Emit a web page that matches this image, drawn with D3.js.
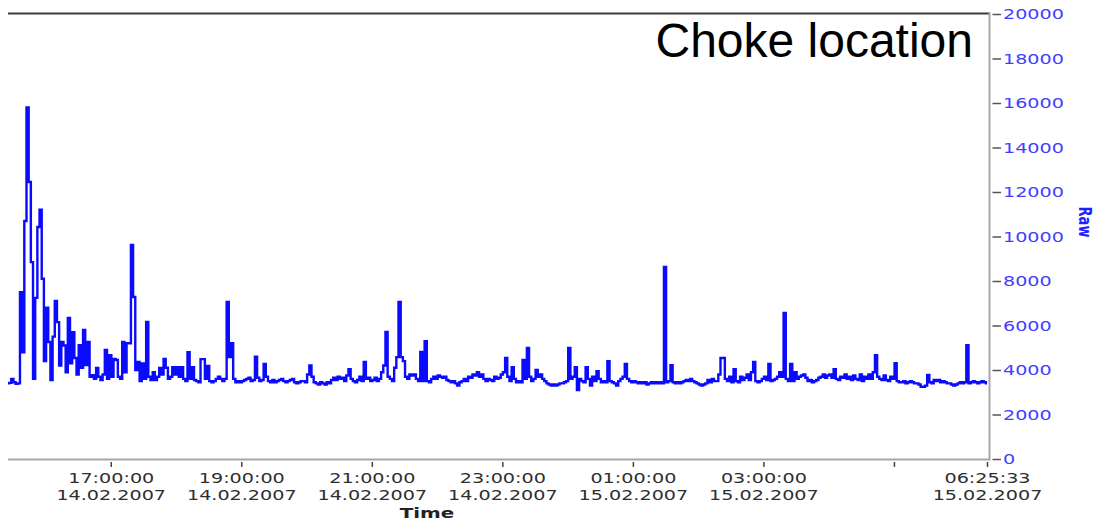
<!DOCTYPE html>
<html>
<head>
<meta charset="utf-8">
<script src="https://cdn.jsdelivr.net/npm/d3@7"></script>
<style>
  html, body { margin: 0; padding: 0; background: #fff; }
  svg { display: block; }
</style>
</head>
<body>
<svg id="chart" width="1095" height="522"></svg>
<script>
// ---------------- DATA ----------------
const chartTitle = "Choke location";
const xAxisTitle = "Time";
const yAxisTitle = "Raw";
const startTime = "2007-02-14T15:25:33";
const endTime = "2007-02-15T06:25:33";
const stepMinutes = 2; // one reading every 2 minutes

// Raw readings, one every 2 minutes from 15:25:33
const rawValues = [
  3400,3420,3600,3450,3380,3400,7500,4800,10700,15800,
  12450,8850,3600,7240,10430,11200,8100,4400,6800,5260,
  3550,5500,7100,6150,4200,5260,5100,3900,6340,4300,
  5700,4540,3800,5120,4100,5800,4220,5260,3700,3770,
  3600,4090,3700,3550,3800,4900,3600,4670,3700,4500,
  4450,3700,3600,5260,3900,5200,5200,9620,7280,4000,
  4360,3500,4300,3600,6160,3700,3550,3900,3550,3700,
  4090,3800,4500,4100,3600,3700,4130,3800,4130,3700,
  4130,3600,3500,4800,3600,4130,3550,3500,3450,4490,
  4490,3600,4180,3500,3450,3500,3600,3700,3600,3500,
  3600,7060,4580,5210,3600,3450,3500,3450,3500,3550,
  3600,3650,3500,3550,4600,3650,3500,3550,4270,3700,
  3500,3450,3550,3450,3500,3550,3600,3500,3450,3500,
  3550,3600,3450,3400,3450,3500,3500,3450,3800,4200,
  3700,3450,3400,3350,3450,3400,3350,3450,3400,3550,
  3650,3550,3700,3600,3650,3500,3750,4040,3600,3500,
  3450,3550,3700,3500,4360,3600,3650,3500,3550,3650,
  3500,3600,3900,4200,5710,3700,3600,3500,4100,4580,
  7060,4580,4400,3700,3600,3800,3750,3800,3600,3500,
  4810,3500,5300,3500,3450,3600,3700,3600,3750,3700,
  3650,3700,3550,3500,3450,3500,3400,3300,3450,3500,
  3600,3500,3700,3650,3800,3750,3900,3700,3800,3600,
  3500,3600,3550,3500,3700,3600,3650,3800,3900,4540,
  3700,3500,4130,3600,3450,3500,3450,4450,3600,4990,
  3700,3500,3600,4000,3700,3800,3600,3500,3400,3350,
  3300,3350,3300,3350,3400,3400,3450,3500,4990,3600,
  3700,4130,3100,3600,3500,3450,4130,3600,3300,3700,
  3500,3950,3600,3450,3500,3450,4400,3500,3450,3400,
  3300,3500,3600,3700,4270,3600,3500,3450,3500,3450,
  3400,3450,3400,3450,3350,3400,3450,3400,3450,3400,
  3450,3400,8630,3450,3500,4220,3450,3400,3450,3400,
  3450,3500,3550,3500,3600,3500,3450,3400,3350,3300,
  3350,3400,3550,3450,3600,3500,3500,3800,4540,4540,
  3600,3500,3700,3450,4040,3500,3450,3700,3550,3650,
  3800,3550,3900,4360,3500,3450,3500,3600,3700,3550,
  4270,3500,3550,3600,3700,3900,3700,6560,3600,3500,
  4270,3500,3900,3600,3700,3750,3800,3650,3500,3550,
  3450,3500,3550,3650,3700,3800,3650,3750,3800,3650,
  4040,3600,3550,3700,3650,3800,3600,3700,3550,3750,
  3600,3550,3800,3500,3700,3600,3800,3600,3900,4670,
  3700,3600,3550,3750,3550,3500,3700,3600,4310,3500,
  3450,3450,3500,3400,3450,3500,3450,3400,3400,3350,
  3250,3250,3300,3780,3450,3400,3550,3500,3550,3450,
  3500,3450,3400,3400,3350,3300,3350,3400,3450,3400,
  3450,5120,3400,3450,3500,3450,3400,3450,3500,3450,
  3400
];

const xTickTimes = [
  "2007-02-14T17:00:00","2007-02-14T19:00:00","2007-02-14T21:00:00",
  "2007-02-14T23:00:00","2007-02-15T01:00:00","2007-02-15T03:00:00",
  "2007-02-15T05:00:00","2007-02-15T06:25:33"
];
const xTickLabels = [
  ["17:00:00","14.02.2007"],["19:00:00","14.02.2007"],["21:00:00","14.02.2007"],
  ["23:00:00","14.02.2007"],["01:00:00","15.02.2007"],["03:00:00","15.02.2007"],
  ["",""],["06:25:33","15.02.2007"]
];
const yTickValues = [0,2000,4000,6000,8000,10000,12000,14000,16000,18000,20000];

// ---------------- CHART ----------------
const svg = d3.select("#chart");
const parse = d3.timeParse("%Y-%m-%dT%H:%M:%S");
const t0 = parse(startTime), t1 = parse(endTime);
const times = rawValues.map((v, i) => d3.timeMinute.offset(t0, i * stepMinutes));

const plotLeft = 8, plotRight = 989, plotTop = 13.5, plotBottom = 459.5;
const x = d3.scaleTime().domain([t0, t1]).range([8, 987]);
const y = d3.scaleLinear().domain([0, 20000]).range([459, 14]);

const SX = 1.42; // horizontal stretch of the original's pixel text

// frame lines
svg.append("line").attr("x1", plotLeft).attr("x2", plotRight + 1)
  .attr("y1", plotTop).attr("y2", plotTop)
  .attr("stroke", "#3a3a3a").attr("stroke-width", 2);

// data line
const line = d3.line()
  .x((d, i) => x(times[i]))
  .y(d => y(d))
  .curve(d3.curveStep);
svg.append("path").datum(rawValues)
  .attr("d", line)
  .attr("fill", "none")
  .attr("stroke", "#0a0aff")
  .attr("stroke-width", 2.4)
  .attr("stroke-linejoin", "miter");

// bottom axis
const xAxis = d3.axisBottom(x)
  .tickValues(xTickTimes.map(parse))
  .tickSize(0).tickFormat("");
const gx = svg.append("g").attr("transform", `translate(0,${plotBottom})`).call(xAxis);
gx.select(".domain").remove();
gx.append("line").attr("x1", plotLeft).attr("x2", plotRight + 1)
  .attr("y1", 0).attr("y2", 0).attr("stroke", "#a8a8a8").attr("stroke-width", 2);
gx.selectAll(".tick").each(function(d, i) {
  const g = d3.select(this);
  g.select("line").remove();
  g.append("line").attr("x1", 0).attr("x2", 0).attr("y1", 2.5).attr("y2", 7.5)
    .attr("stroke", "#444").attr("stroke-width", 1.5);
  const lbl = xTickLabels[i];
  if (lbl[0]) {
    const t = g.append("text")
      .attr("transform", `scale(${SX},1)`)
      .attr("text-anchor", "middle")
      .attr("fill", "#2e2e2e")
      .style("font-family", "'DejaVu Sans', Verdana, sans-serif")
      .style("font-size", "13.5px");
    t.append("tspan").attr("x", 0).attr("y", 23.5).text(lbl[0]);
    t.append("tspan").attr("x", 0).attr("y", 40.5).text(lbl[1]);
  }
});
gx.selectAll(".tick text:not([transform])").remove();

// right axis
const yAxis = d3.axisRight(y).tickValues(yTickValues).tickSize(0).tickFormat(d => d);
const gy = svg.append("g").attr("transform", `translate(${plotRight},0)`).call(yAxis);
gy.select(".domain").remove();
gy.append("line").attr("x1", 0.5).attr("x2", 0.5)
  .attr("y1", plotTop - 1).attr("y2", plotBottom + 1)
  .attr("stroke", "#a8a8a8").attr("stroke-width", 2);
gy.selectAll(".tick").each(function(d) {
  const g = d3.select(this);
  g.select("line").remove();
  g.append("line").attr("x1", 3.5).attr("x2", 12).attr("y1", 0).attr("y2", 0)
    .attr("stroke", "#555").attr("stroke-width", 1.5);
  g.select("text")
    .attr("x", 0).attr("dy", "0.36em")
    .attr("transform", `translate(14,0) scale(${SX},1)`)
    .attr("text-anchor", "start")
    .attr("fill", "#4040ff")
    .style("font-family", "'DejaVu Sans', Verdana, sans-serif")
    .style("font-size", "13.5px");
});

// axis titles
svg.append("text")
  .attr("transform", `translate(427,518) scale(${SX},1)`)
  .attr("text-anchor", "middle")
  .attr("fill", "#222")
  .style("font-family", "'DejaVu Sans', Verdana, sans-serif")
  .style("font-weight", "bold")
  .style("font-size", "14px")
  .text(xAxisTitle);

svg.append("text")
  .attr("transform", `translate(1079,222) rotate(90) scale(1,${SX})`)
  .attr("text-anchor", "middle")
  .attr("fill", "#2020ff")
  .style("font-family", "'DejaVu Sans', Verdana, sans-serif")
  .style("font-weight", "bold")
  .style("font-size", "13px")
  .text(yAxisTitle);

// chart title
svg.append("text")
  .attr("x", 973).attr("y", 57)
  .attr("text-anchor", "end")
  .attr("fill", "#000")
  .style("font-family", "'Liberation Sans', Arial, sans-serif")
  .style("font-size", "48px")
  .text(chartTitle);
</script>
</body>
</html>
